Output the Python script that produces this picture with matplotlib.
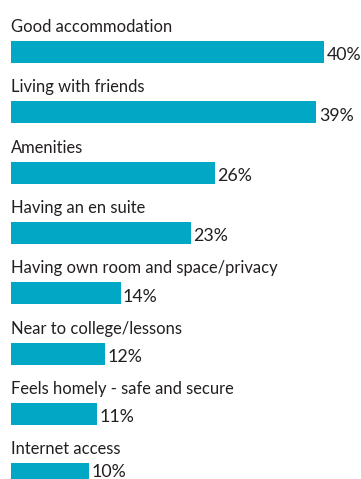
import matplotlib
matplotlib.use('Agg')
import matplotlib.pyplot as plt

labels = ['Good accommodation', 'Living with friends', 'Amenities',
          'Having an en suite', 'Having own room and space/privacy',
          'Near to college/lessons', 'Feels homely - safe and secure',
          'Internet access']
values = [40, 39, 26, 23, 14, 12, 11, 10]

bar_color = '#00a8c6'
text_color = '#231f20'
font = 'Lato'

fig = plt.figure(figsize=(3.61, 4.79), dpi=100)
ax = fig.add_axes([0, 0, 1, 1])

ypos = list(range(len(values)))
ax.barh(ypos, values, height=0.365, color=bar_color)

y_bottom = 7.08
for i, (lab, val) in enumerate(zip(labels, values)):
    ax.text(0, i - 0.33, lab, fontsize=11.9, family=font, color=text_color,
            va='baseline', ha='left')
    # keep the last value label inside the figure
    ty = min(i + 0.14, y_bottom - 0.03)
    ax.text(val + 0.3, ty, f'{val}%', fontsize=12.8, family=font,
            color=text_color, va='baseline', ha='left')

ax.set_xlim(-11 / 7.83, 350 / 7.83)
ax.set_ylim(y_bottom, -0.861)
ax.axis('off')

fig.savefig('out.png', dpi=100)
